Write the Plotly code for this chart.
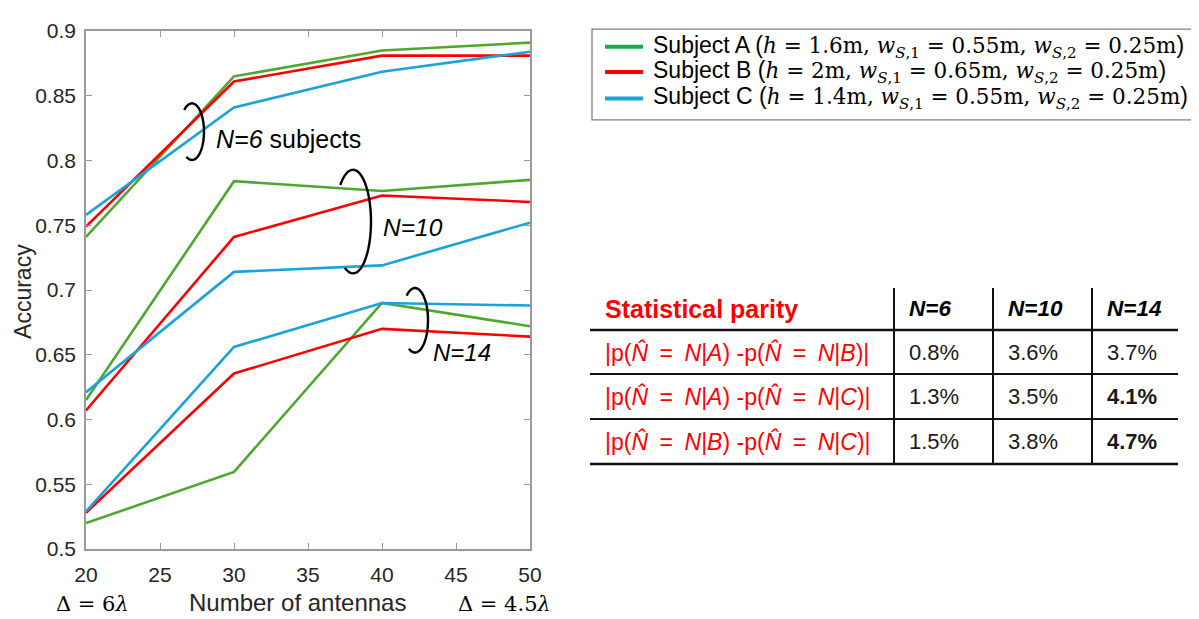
import numpy as np
import plotly.graph_objects as go

# ---------------- data ----------------
antennas = [20, 30, 40, 50]
subjects = ["A", "B", "C"]
acc_N6 = {"A": [0.741, 0.865, 0.885, 0.891],
          "B": [0.749, 0.861, 0.881, 0.881],
          "C": [0.758, 0.841, 0.8685, 0.884]}
acc_N10 = {"A": [0.615, 0.784, 0.7765, 0.785],
           "B": [0.607, 0.741, 0.773, 0.768],
           "C": [0.621, 0.714, 0.719, 0.752]}
acc_N14 = {"A": [0.520, 0.5595, 0.690, 0.672],
           "B": [0.528, 0.6355, 0.670, 0.664],
           "C": [0.529, 0.656, 0.690, 0.688]}
heights = {"A": "1.6", "B": "2", "C": "1.4"}
w1 = {"A": "0.55", "B": "0.65", "C": "0.55"}
w2 = {"A": "0.25", "B": "0.25", "C": "0.25"}

x_ticks = [20, 25, 30, 35, 40, 45, 50]
y_ticks = [0.5, 0.55, 0.6, 0.65, 0.7, 0.75, 0.8, 0.85, 0.9]
y_ticktext = ["0.5", "0.55", "0.6", "0.65", "0.7", "0.75", "0.8", "0.85", "0.9"]

table_header = ["N=6", "N=10", "N=14"]
table_pairs = [("A", "B"), ("A", "C"), ("B", "C")]
table_values = [["0.8%", "3.6%", "3.7%"],
                ["1.3%", "3.5%", "4.1%"],
                ["1.5%", "3.8%", "4.7%"]]
table_bold = [[False, False, False],
              [False, False, True],
              [False, False, True]]

# ---------------- style ----------------
line_colors = {"A": "#4ea72e", "B": "#ff0000", "C": "#1aa3db"}
legend_colors = {"A": "#12ad4b", "B": "#ff0000", "C": "#1aa3db"}
SANS = "Liberation Sans, Arial, sans-serif"
SERIF = "DejaVu Serif, Liberation Serif, serif"
W, H = 1199, 619          # window size
OFF = 8                   # default body margin of the html page
L, R, T, B = 86, 530, 19, 549   # plot area in window pixels
ENSP = "\u2002"


def P(x, y):
    return (x - L) / (R - L), (B - y) / (B - T)


def m(s, size=None):
    st = "font-family:%s" % SERIF
    if size:
        st += ";font-size:%spx" % size
    return '<span style="%s">%s</span>' % (st, s)


fig = go.Figure()

for data in (acc_N6, acc_N10, acc_N14):
    for s in subjects:
        fig.add_trace(go.Scatter(x=antennas, y=data[s], mode="lines",
                                 line=dict(color=line_colors[s], width=2.6),
                                 showlegend=False, hoverinfo="skip", name="Subject " + s))

ann = []
shapes = []


def text(x, y, s, size=20, color="#000", xanchor="left", font=SANS, angle=0):
    px, py = P(x, y)
    ann.append(dict(x=px, y=py, xref="paper", yref="paper", text=s, showarrow=False,
                    xanchor=xanchor, yanchor="middle", textangle=angle, borderpad=0,
                    font=dict(size=size, color=color, family=font)))


def line(x0, y0, x1, y1, color="#111", w=2):
    a0 = P(x0, y0); a1 = P(x1, y1)
    shapes.append(dict(type="line", xref="paper", yref="paper", x0=a0[0], y0=a0[1],
                       x1=a1[0], y1=a1[1], line=dict(color=color, width=w)))


# arcs (braces) grouping the curves
def arc(cx, cy, rx, ry, t0, t1):
    t = np.radians(np.linspace(t0, t1, 60))
    pts = [P(cx + rx * np.cos(a), cy + ry * np.sin(a)) for a in t]
    path = "M " + " L ".join("%.5f,%.5f" % p for p in pts)
    return dict(type="path", xref="paper", yref="paper", path=path,
                line=dict(color="black", width=2.4))


shapes.append(arc(192, 122, 12, 29, -130, 118))
shapes.append(arc(353, 214, 18, 53, -135, 117))
shapes.append(arc(415, 315, 13, 33, -130, 118))

text(215, 130, "<i>N=6</i> subjects", size=25)
text(382, 220, "<i>N=10</i>", size=24.5)
text(432, 348, "<i>N=14</i>", size=24)

# axis captions
text(297, 604, "Number of antennas", size=24, color="#262626", xanchor="center")
text(23, 286, "Accuracy", size=23, color="#262626", xanchor="center", angle=-90)
text(92, 605, "Δ = 6<i>λ</i>", size=21, xanchor="center", font=SERIF)
text(504, 605, "Δ = 4.5<i>λ</i>", size=21, xanchor="center", font=SERIF)

# ---------------- legend (drawn box) ----------------
lx0, ly0, lx1, ly1 = 592, 17, 1197, 110
a0 = P(lx0, ly0); a1 = P(lx1, ly1)
shapes.append(dict(type="rect", xref="paper", yref="paper", x0=a0[0], y0=a0[1],
                   x1=a1[0], y1=a1[1], line=dict(color="#7f7f7f", width=1.3),
                   fillcolor="white", layer="below"))
leg_y = [35, 61, 88]
for k, s in enumerate(subjects):
    line(605, leg_y[k], 643, leg_y[k], color=legend_colors[s], w=4)
    lab = ("Subject %s (" % s
           + m("<i>h</i> = %sm, <i>w</i><sub><i>S</i>,1</sub> = %sm, "
               "<i>w</i><sub><i>S</i>,2</sub> = %sm" % (heights[s], w1[s], w2[s]), 21.5)
           + ")")
    text(652, leg_y[k], lab, size=23)

# ---------------- table ----------------
col_x = [894, 993, 1092]
row_y = [303, 348, 393, 439]
text(604, row_y[0], "<b>Statistical parity</b>", size=25, color="#ff0000")
for j, h in enumerate(table_header):
    text(col_x[j] + 14, row_y[0], "<b><i>%s</i></b>" % h, size=22.5)
for i, (a, b) in enumerate(table_pairs):
    eq = ENSP + "=" + ENSP
    lab = ("|p(<i>N̂</i>%s<i>N</i>|<i>%s</i>) -p(<i>N̂</i>%s<i>N</i>|<i>%s</i>)|" % (eq, a, eq, b))
    text(604, row_y[i + 1], lab, size=23, color="#ff0000")
    for j, v in enumerate(table_values[i]):
        vs = "<b>%s</b>" % v if table_bold[i][j] else v
        text(col_x[j] + 14, row_y[i + 1], vs, size=22, color="#1a1a1a")

line(590, 325, 1178, 325, w=2.5)
line(590, 370, 1178, 370)
line(590, 416, 1178, 416)
line(590, 462, 1178, 462, w=2.5)
for cx in col_x:
    line(cx, 282, cx, 462)

axis_common = dict(showline=True, linecolor="#9a9a9a", linewidth=1.5, mirror="allticks",
                   ticks="inside", ticklen=6, tickcolor="#9a9a9a", tickwidth=1.2,
                   showgrid=False, zeroline=False,
                   tickfont=dict(family=SANS, size=21, color="#262626"))

fig.update_layout(
    width=W - OFF, height=H - OFF, autosize=False,
    margin=dict(l=L - OFF, r=W - R, t=T - OFF, b=H - B, pad=0),
    paper_bgcolor="white", plot_bgcolor="white",
    showlegend=False,
    xaxis=dict(range=[20, 50], tickvals=x_ticks, ticklabelstandoff=6, **axis_common),
    yaxis=dict(range=[0.5, 0.9], tickvals=y_ticks, ticktext=y_ticktext, ticklabelstandoff=4,
               **axis_common),
    annotations=ann, shapes=shapes,
)

fig.write_html("out.html")
